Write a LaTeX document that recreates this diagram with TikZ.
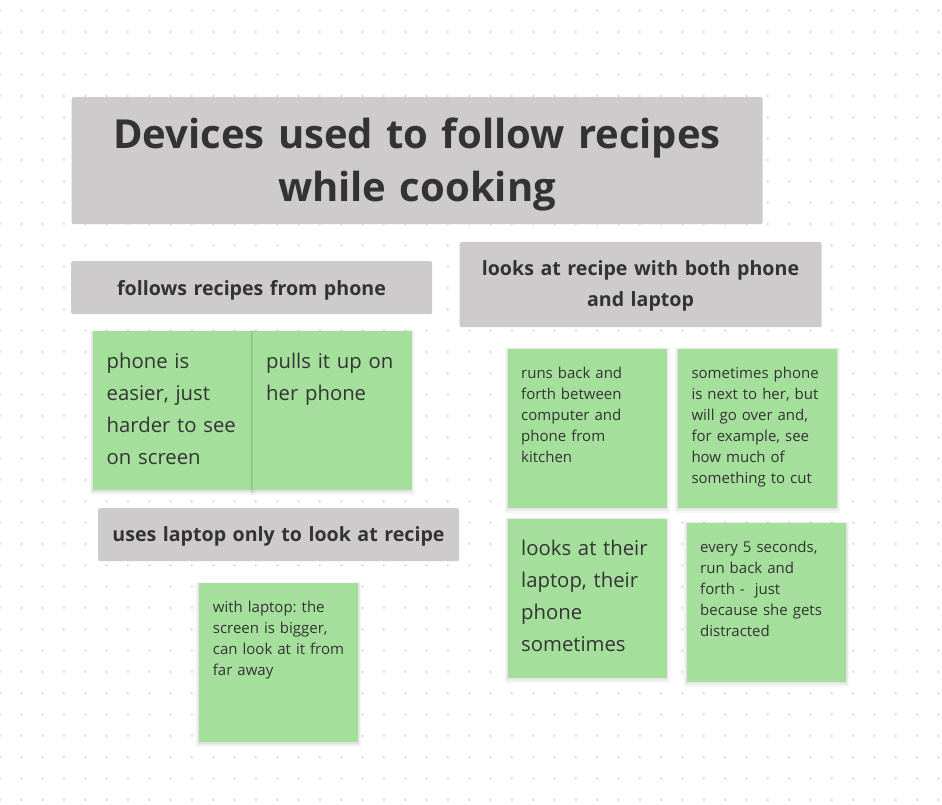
\documentclass[tikz,border=0pt]{standalone}
\usepackage{fontspec}
\setmainfont{Open Sans}
\frenchspacing
\definecolor{griddot}{HTML}{C6C6C6}
\definecolor{labelgray}{HTML}{CDCBCC}
\definecolor{sticky}{HTML}{A5DF9C}
\definecolor{ink}{HTML}{333333}
\tikzset{
  header/.style={fill=labelgray, rounded corners=2pt, inner sep=0pt, anchor=north west},
  note/.style={fill=sticky, inner sep=0pt, anchor=north west,
    minimum width=159pt, minimum height=159pt,
    preaction={draw=black, draw opacity=0.035, line width=6pt, transform canvas={yshift=-2pt}},
    preaction={draw=black, draw opacity=0.04, line width=3.5pt, transform canvas={yshift=-1.5pt}},
    preaction={draw=black, draw opacity=0.04, line width=1.5pt, transform canvas={yshift=-1pt}}},
  titletext/.style={font=\bfseries\fontsize{40}{53}\selectfont, text=ink, align=center,
    inner sep=0pt, text width=690pt, anchor=base},
  headtext/.style={font=\bfseries\fontsize{19.6}{31.5}\selectfont, text=ink, align=center,
    inner sep=0pt, text width=360pt, anchor=base},
  bignote/.style={font=\fontsize{20.3}{32}\selectfont, text=ink, align=left,
    inner sep=0pt, text width=150pt, anchor=base west},
  smallnote/.style={font=\fontsize{15}{21}\selectfont, text=ink, align=left,
    inner sep=0pt, text width=150pt, anchor=base west},
}
\begin{document}
\begin{tikzpicture}[x=1pt, y=-1pt]
  % board with dot grid
  \fill[white] (0,0) rectangle (942,804);
  \useasboundingbox (0,0) rectangle (942,804);
  \foreach \i in {0,...,44}
    \foreach \j in {0,...,37}
      \fill[griddot] (\i*21.33, 10.67+\j*21.33) circle (1);

  % section headers
  \node[header, minimum width=691pt, minimum height=127pt] (titlebox) at (71.5,97) {};
  \node[titletext] (title) at (417,148) {Devices used to follow recipes\\while cooking};

  \node[header, minimum width=361pt, minimum height=53pt] (phonebox) at (71,261) {};
  \node[headtext] (phone) at (251.5,295) {follows recipes from phone};

  \node[header, minimum width=362pt, minimum height=85pt] (bothbox) at (459.5,242) {};
  \node[headtext] (both) at (640.5,275) {looks at recipe with both phone\\and laptop};

  \node[header, minimum width=361pt, minimum height=53pt] (laptopbox) at (98,508) {};
  \node[headtext] (laptop) at (278.5,541.5) {uses laptop only to look at recipe};

  % sticky notes
  \node[note, minimum width=160pt] (n1) at (92.3,331) {};
  \node[note] (n2) at (252.5,331) {};
  \node[note] (n3) at (199,583) {};
  \node[note] (n4) at (507.5,348.3) {};
  \node[note] (n5) at (678,348.3) {};
  \node[note] (n6) at (507.5,518.3) {};
  \node[note] (n7) at (686.7,522.3) {};

  \node[bignote] (t1) at (106.5,368) {phone is\\easier, just\\harder to see\\on screen};
  \node[bignote] (t2) at (266,368) {pulls it up on\\her phone};
  \node[smallnote] (t3) at (212.7,612.5) {with laptop: the\\screen is bigger,\\can look at it from\\far away};
  \node[smallnote] (t4) at (521,378) {runs back and\\forth between\\computer and\\phone from\\kitchen};
  \node[smallnote] (t5) at (691.3,378) {sometimes phone\\is next to her, but\\will go over and,\\for example, see\\how much of\\something to cut};
  \node[bignote] (t6) at (521,555) {looks at their\\laptop, their\\phone\\sometimes};
  \node[smallnote] (t7) at (700,552.7) {every 5 seconds,\\run back and\\forth -\ \ just\\because she gets\\distracted};
\end{tikzpicture}
\end{document}
